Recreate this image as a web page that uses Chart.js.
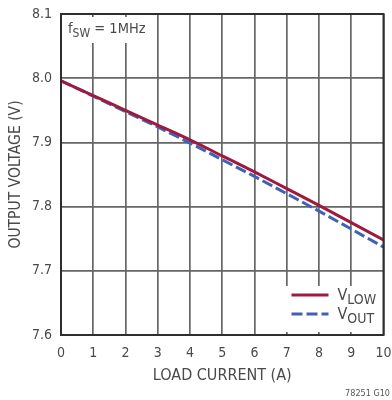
<!DOCTYPE html>
<html>
<head>
<meta charset="utf-8">
<script src="https://cdn.jsdelivr.net/npm/chart.js@4/dist/chart.umd.min.js"></script>
<style>
  html, body { margin: 0; padding: 0; background: #fff; }
  #wrap { width: 392px; height: 400px; }
</style>
</head>
<body>
<div id="wrap"><canvas id="c" width="392" height="400"></canvas></div>
<script>
// Load current steps (A)
const loadCurrent = [0, 1, 2, 3, 4, 5, 6, 7, 8, 9, 10];
// Output voltages (V) at each load current
const vLow = [7.996, 7.973, 7.950, 7.927, 7.904, 7.879, 7.854, 7.828, 7.802, 7.775, 7.748];
const vOut = [7.996, 7.972, 7.948, 7.924, 7.899, 7.873, 7.847, 7.820, 7.793, 7.765, 7.737];
// Series names: main letter + subscript
const seriesNames = [['V', 'LOW'], ['V', 'OUT']];
const seriesColors = ['#9e1a3e', '#3f62b5'];
// Axis ranges
const xTicks = [0, 10, 1];
const yTicks = [7.6, 8.1, 0.1];
const xTitle = 'LOAD CURRENT (A)';
const yTitle = 'OUTPUT VOLTAGE (V)';
const condition = ['f', 'SW', ' = 1MHz'];
const partNote = '78251 G10';

const FONT = '"Liberation Sans Narrow", "Arial Narrow", "DejaVu Sans Condensed", sans-serif';
const TXT = '#4a4a4a';

function pts(ys) { return loadCurrent.map((x, i) => ({ x: x, y: ys[i] })); }

// Draws a letter with a subscript, returns end x
function subText(ctx, x, y, main, sub, size) {
  ctx.font = size + 'px ' + FONT;
  ctx.fillText(main, x, y);
  let w = ctx.measureText(main).width;
  ctx.font = Math.round(size * 0.85) + 'px ' + FONT;
  ctx.fillText(sub, x + w, y + size * 0.28);
  return x + w + ctx.measureText(sub).width;
}

const decor = {
  id: 'decor',
  beforeDatasetsDraw(chart) {
    const ctx = chart.ctx, a = chart.chartArea;
    ctx.save();
    // condition label box
    ctx.fillStyle = '#fff';
    ctx.fillRect(a.left + 3, a.top + 3, 88, 26);
    ctx.fillStyle = TXT;
    ctx.textBaseline = 'alphabetic';
    ctx.textAlign = 'left';
    let x = subText(ctx, a.left + 7, a.top + 19, condition[0], condition[1], 14.5);
    ctx.font = '14.5px ' + FONT;
    ctx.fillText(condition[2], x, a.top + 19);
    // legend box
    ctx.fillStyle = '#fff';
    ctx.fillRect(a.right - 101, a.bottom - 49, 99, 46);
    ctx.restore();
  },
  afterDraw(chart) {
    const ctx = chart.ctx, a = chart.chartArea;
    ctx.save();
    // frame
    ctx.strokeStyle = '#2e2e2e';
    ctx.lineWidth = 2;
    ctx.strokeRect(a.left, a.top, a.right - a.left, a.bottom - a.top);
    // legend entries
    chart.data.datasets.forEach((ds, i) => {
      const y = a.bottom - 40 + i * 19;
      ctx.strokeStyle = ds.borderColor;
      ctx.lineWidth = 3;
      ctx.setLineDash(ds.borderDash || []);
      ctx.beginPath();
      ctx.moveTo(a.right - 92, y);
      ctx.lineTo(a.right - 55, y);
      ctx.stroke();
      ctx.setLineDash([]);
      ctx.fillStyle = TXT;
      ctx.textAlign = 'left';
      ctx.textBaseline = 'alphabetic';
      subText(ctx, a.right - 46, y + 5, seriesNames[i][0], seriesNames[i][1], 16);
    });
    // part note
    ctx.font = '9px ' + FONT;
    ctx.fillStyle = '#555';
    ctx.textAlign = 'right';
    ctx.fillText(partNote, 390, 396);
    ctx.restore();
  }
};

new Chart(document.getElementById('c'), {
  type: 'line',
  data: {
    datasets: [
      { label: seriesNames[0].join(''), data: pts(vLow), borderColor: seriesColors[0], borderWidth: 3, pointRadius: 0, cubicInterpolationMode: 'monotone', fill: false },
      { label: seriesNames[1].join(''), data: pts(vOut), borderColor: seriesColors[1], borderWidth: 3, borderDash: [11, 4], pointRadius: 0, cubicInterpolationMode: 'monotone', fill: false }
    ]
  },
  options: {
    responsive: false,
    animation: false,
    layout: { padding: { top: 14, right: 8.5, left: 0, bottom: 0 } },
    plugins: { legend: { display: false }, tooltip: { enabled: false } },
    scales: {
      x: {
        type: 'linear', min: xTicks[0], max: xTicks[1],
        ticks: { stepSize: xTicks[2], color: TXT, padding: 10, font: { family: FONT, size: 14 } },
        grid: { color: '#666', lineWidth: 1.7, drawTicks: false },
        border: { display: false },
        title: { display: true, text: xTitle, color: TXT, font: { family: FONT, size: 16 }, padding: { top: 0, bottom: 15 } },
        afterFit(s) { s.height = 65; s.paddingLeft = 0; s.paddingRight = 0; }
      },
      y: {
        min: yTicks[0], max: yTicks[1],
        ticks: { stepSize: yTicks[2], color: TXT, padding: 9, font: { family: FONT, size: 14 }, callback: v => Number(v).toFixed(1) },
        grid: { color: '#666', lineWidth: 1.7, drawTicks: false },
        border: { display: false },
        title: { display: true, text: yTitle, color: TXT, font: { family: FONT, size: 15.5 }, padding: { top: 7, bottom: 4 } },
        afterFit(s) { s.width = 61; s.paddingTop = 0; s.paddingBottom = 0; }
      }
    }
  },
  plugins: [decor]
});
</script>
</body>
</html>
